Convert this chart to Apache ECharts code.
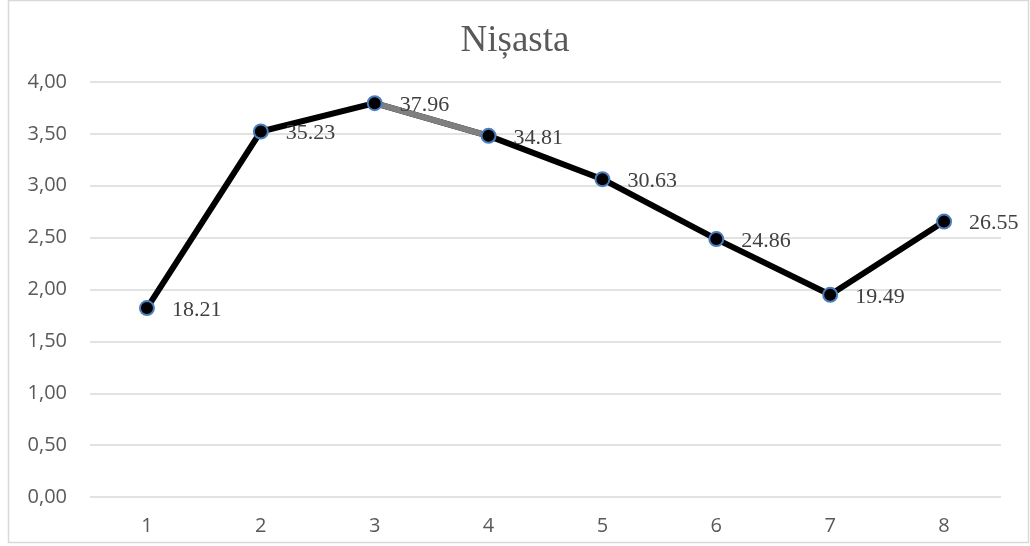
<!DOCTYPE html>
<html>
<head>
<meta charset="utf-8">
<script src="https://cdn.jsdelivr.net/npm/echarts@6/dist/echarts.min.js"></script>
<style>
  html, body { margin: 0; padding: 0; background: #fff; }
  #chart { width: 1030px; height: 546px; }
</style>
</head>
<body>
<div id="chart"></div>
<script>
// Sample numbers along the x axis
const categories = ['1', '2', '3', '4', '5', '6', '7', '8'];
// Starch values (Nișasta); the axis shows them divided by ten
const values = [18.21, 35.23, 37.96, 34.81, 30.63, 24.86, 19.49, 26.55];
// Indices of the segment drawn in grey (from point 3 to point 4)
const greySegment = [2, 3];
// Axis scale in data units, printed as value / 10 with a decimal comma
const yMin = 0, yMax = 40, yStep = 5;
const titleText = 'Nișasta';

const serif = "'Liberation Serif', 'Times New Roman', serif";
const sans = "'Open Sans', 'Noto Sans', sans-serif";

const greyValues = values.map((v, i) => (greySegment.includes(i) ? v : null));

const chart = echarts.init(document.getElementById('chart'), null, { renderer: 'canvas' });

chart.setOption({
  backgroundColor: '#ffffff',
  animation: false,
  title: {
    text: titleText,
    left: 'center',
    top: 18,
    textStyle: {
      fontFamily: serif,
      fontSize: 37,
      fontWeight: 'normal',
      color: '#595959'
    }
  },
  graphic: [{
    type: 'rect',
    shape: { x: 8.5, y: 0.5, width: 1020, height: 542 },
    style: { fill: 'none', stroke: '#d9d9d9', lineWidth: 1.5 },
    silent: true
  }],
  grid: { left: 90, right: 29, top: 82, bottom: 49, containLabel: false },
  xAxis: {
    type: 'category',
    data: categories,
    boundaryGap: true,
    axisLine: { show: false },
    axisTick: { show: false },
    axisLabel: {
      margin: 19,
      fontFamily: sans,
      fontSize: 20,
      color: '#595959'
    }
  },
  yAxis: {
    type: 'value',
    min: yMin,
    max: yMax,
    interval: yStep,
    axisLine: { show: false },
    axisTick: { show: false },
    splitLine: { lineStyle: { color: '#d9d9d9', width: 1.5 } },
    axisLabel: {
      margin: 23,
      fontFamily: sans,
      fontSize: 20,
      color: '#595959',
      formatter: v => (v / 10).toFixed(2).replace('.', ',')
    }
  },
  series: [
    {
      // main black line
      type: 'line',
      data: values,
      showSymbol: false,
      z: 2,
      lineStyle: { width: 6, color: '#000000' },
      silent: true
    },
    {
      // grey segment between points 3 and 4
      type: 'line',
      data: greyValues,
      showSymbol: false,
      connectNulls: false,
      z: 3,
      lineStyle: { width: 6, color: '#808080' },
      silent: true
    },
    {
      // markers and value labels
      type: 'line',
      data: values,
      symbol: 'circle',
      symbolSize: 14,
      z: 4,
      lineStyle: { width: 0, opacity: 0 },
      itemStyle: { color: '#000000', borderColor: '#4a7ebf', borderWidth: 2 },
      label: {
        show: true,
        position: 'right',
        distance: 17,
        offset: [0, 2],
        fontFamily: serif,
        fontSize: 22,
        color: '#404040',
        formatter: p => p.value.toFixed(2)
      }
    }
  ]
});
</script>
</body>
</html>
